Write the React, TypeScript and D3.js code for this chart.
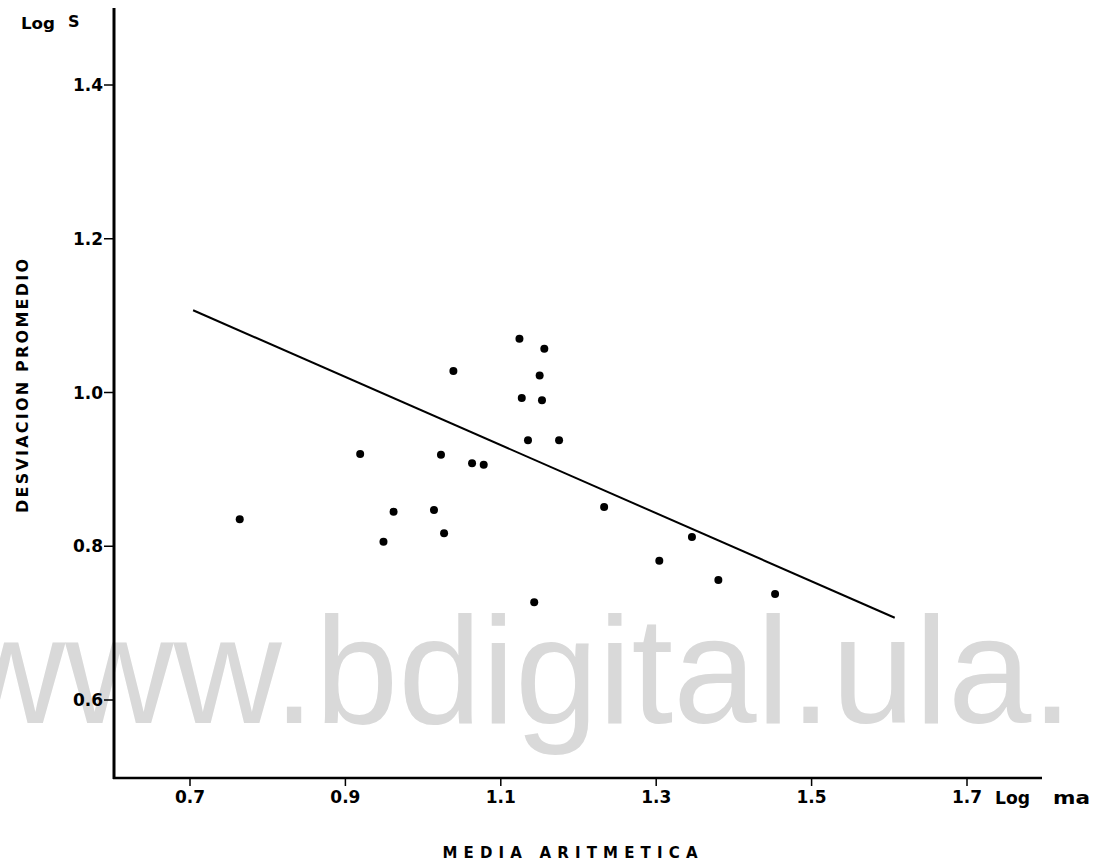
import React from "react";
import * as d3 from "d3";

const xTicks = [0.7, 0.9, 1.1, 1.3, 1.5, 1.7];
const xTickLabels = ["0.7", "0.9", "1.1", "1.3", "1.5", "1.7"];
const yTicks = [0.6, 0.8, 1.0, 1.2, 1.4];
const yTickLabels = ["0.6", "0.8", "1.0", "1.2", "1.4"];

const pointsX = [0.764, 0.919, 0.949, 0.962, 1.014, 1.023, 1.027, 1.039, 1.063, 1.078, 1.124, 1.127, 1.135, 1.143, 1.150, 1.153, 1.156, 1.175, 1.233, 1.304, 1.346, 1.380, 1.453];
const pointsY = [0.835, 0.920, 0.806, 0.845, 0.847, 0.919, 0.817, 1.028, 0.908, 0.906, 1.070, 0.993, 0.938, 0.727, 1.022, 0.990, 1.057, 0.938, 0.851, 0.781, 0.812, 0.756, 0.738];

const lineX = [0.704, 1.607];
const lineY = [1.107, 0.707];

const W = 1110;
const H = 868;
const FONT = "'DejaVu Sans', Verdana, sans-serif";

export default function App() {
  const x = d3.scaleLinear().domain([0.7, 1.7]).range([190, 967]);
  const y = d3.scaleLinear().domain([0.6, 1.4]).range([700, 85]);
  const x0 = 114;
  const x1 = 1042;
  const yTop = 8;
  const yBase = 778;

  const line = d3
    .line<[number, number]>()
    .x((d) => x(d[0]))
    .y((d) => y(d[1]));
  const regData: [number, number][] = lineX.map((v, i) => [v, lineY[i]]);

  const lbl = { fontFamily: FONT, fontWeight: "bold" as const };

  return (
    <svg
      width={W}
      height={H}
      style={{ position: "absolute", left: 0, top: 0, background: "#fff" }}
    >
      <rect x={0} y={0} width={W} height={H} fill="#fff" />
      <text
        x={-43}
        y={723}
        fontFamily="'Liberation Sans', Arial, sans-serif"
        fontSize={152}
        fill="#d9d9d9"
        textLength={1116}
        lengthAdjust="spacingAndGlyphs"
      >
        www.bdigital.ula.
      </text>

      {/* axes */}
      <line x1={x0} y1={yTop} x2={x0} y2={yBase + 1} stroke="#000" strokeWidth={3} />
      <line x1={x0 - 1} y1={yBase} x2={x1} y2={yBase} stroke="#000" strokeWidth={2.5} />

      {yTicks.map((t, i) => (
        <g key={"y" + i}>
          <line x1={104} x2={x0} y1={y(t)} y2={y(t)} stroke="#000" strokeWidth={1.5} />
          <text x={103} y={y(t)} textAnchor="end" dominantBaseline="central" fontSize={17} {...lbl}>
            {yTickLabels[i]}
          </text>
        </g>
      ))}

      {xTicks.map((t, i) => (
        <g key={"x" + i}>
          <line x1={x(t)} x2={x(t)} y1={yBase} y2={yBase + 8} stroke="#000" strokeWidth={1.5} />
          <text x={x(t)} y={797} textAnchor="middle" dominantBaseline="central" fontSize={17} {...lbl}>
            {xTickLabels[i]}
          </text>
        </g>
      ))}

      <text x={21} y={23} dominantBaseline="central" fontSize={16} {...lbl} textLength={34} lengthAdjust="spacingAndGlyphs">
        Log
      </text>
      <text x={68} y={21} dominantBaseline="central" fontSize={16} {...lbl}>
        S
      </text>
      <text x={995} y={798} dominantBaseline="central" fontSize={17} {...lbl} textLength={35} lengthAdjust="spacingAndGlyphs">
        Log
      </text>
      <text x={1053} y={798} dominantBaseline="central" fontSize={17} {...lbl} textLength={37} lengthAdjust="spacingAndGlyphs">
        ma
      </text>

      <text
        transform="translate(22,386) rotate(-90)"
        textAnchor="middle"
        dominantBaseline="central"
        fontSize={16}
        {...lbl}
        textLength={254}
        lengthAdjust="spacing"
      >
        DESVIACION  PROMEDIO
      </text>
      <text
        x={570}
        y={853}
        textAnchor="middle"
        dominantBaseline="central"
        fontSize={15}
        {...lbl}
        textLength={255}
        lengthAdjust="spacing"
      >
        MEDIA  ARITMETICA
      </text>

      <path d={line(regData) || ""} fill="none" stroke="#000" strokeWidth={2} />

      {pointsX.map((v, i) => (
        <circle key={"p" + i} cx={x(v)} cy={y(pointsY[i])} r={4} fill="#000" />
      ))}
    </svg>
  );
}
